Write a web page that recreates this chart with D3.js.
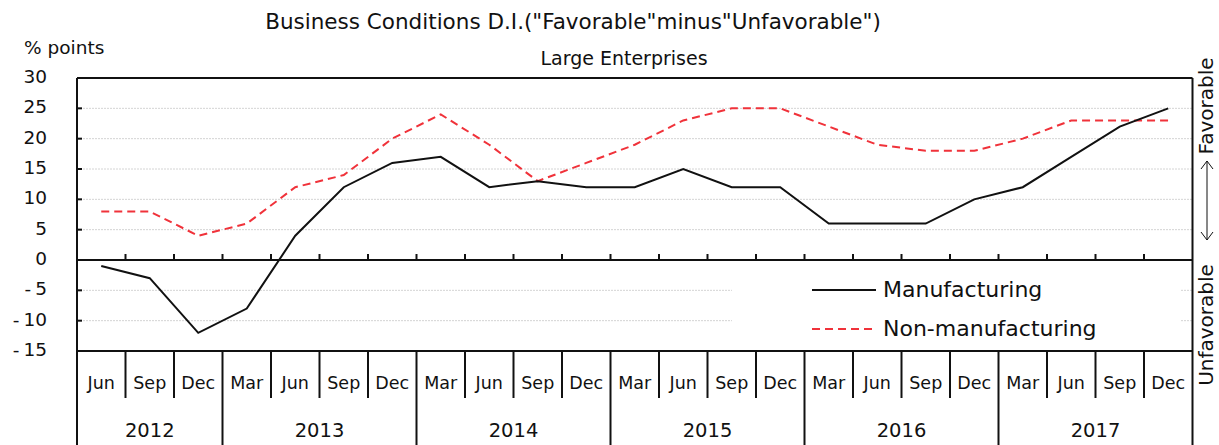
<!DOCTYPE html>
<html>
<head>
<meta charset="utf-8">
<script src="https://cdn.jsdelivr.net/npm/d3@7/dist/d3.min.js"></script>
<style>
  body { margin: 0; background: #fff; }
  svg text { font-family: "DejaVu Sans", sans-serif; fill: #111; }
</style>
</head>
<body>
<svg id="chart" width="1219" height="445"></svg>
<script>
// data
const years = ["2012", "2013", "2014", "2015", "2016", "2017"]
const months = ["Jun","Sep","Dec",
  "Mar","Jun","Sep","Dec",
  "Mar","Jun","Sep","Dec",
  "Mar","Jun","Sep","Dec",
  "Mar","Jun","Sep","Dec",
  "Mar","Jun","Sep","Dec"]
const quarterYear = ["2012","2012","2012",
  "2013","2013","2013","2013",
  "2014","2014","2014","2014",
  "2015","2015","2015","2015",
  "2016","2016","2016","2016",
  "2017","2017","2017","2017"]
const manufacturing = [-1,-3,-12,-8,4,12,16,17,12,13,12,12,15,12,12,6,6,6,10,12,17,22,25]
const nonManufacturing = [8,8,4,6,12,14,20,24,19,13,16,19,23,25,25,22,19,18,18,20,23,23,23]
const yTicks = [30,25,20,15,10,5,0,-5,-10,-15]
const gridVals = [25,20,15,10,5,-5,-10]

const svg = d3.select("#chart")
const plotLeft = 77, plotRight = 1192.5, plotTop = 78, plotBottom = 351
const keys = months.map((m,i)=>quarterYear[i]+"-"+m)

const x = d3.scaleBand().domain(keys).range([plotLeft, plotRight]).padding(0)
const y = d3.scaleLinear().domain([-15, 30]).range([plotBottom, plotTop])
const cx = i => x(keys[i]) + x.bandwidth()/2

// titles
svg.append("text").attr("x", 573).attr("y", 29).attr("text-anchor","middle")
  .style("font-size","21.5px").text('Business Conditions D.I.("Favorable"minus"Unfavorable")')
svg.append("text").attr("x", 624).attr("y", 65).attr("text-anchor","middle")
  .style("font-size","19px").text("Large Enterprises")
svg.append("text").attr("x", 24).attr("y", 54).style("font-size","18.5px").text("% points")

// gridlines
svg.append("g").selectAll("line").data(gridVals).enter().append("line")
  .attr("x1", plotLeft).attr("x2", plotRight)
  .attr("y1", d=>y(d)).attr("y2", d=>y(d))
  .attr("stroke", "#d4d4d4").attr("stroke-width", 1).attr("stroke-dasharray", "2,1")

// legend background hides the lower gridlines
svg.append("rect").attr("x", 732).attr("y", y(0)+2).attr("width", 448).attr("height", y(-15)-y(0)-4)
  .attr("fill", "#fff")

// frame
function hline(yy){
  svg.append("line").attr("x1", plotLeft).attr("x2", plotRight).attr("y1", yy).attr("y2", yy)
    .attr("stroke","#111").attr("stroke-width",2)
}
hline(plotTop); hline(plotBottom); hline(y(0))
svg.append("line").attr("x1", plotLeft).attr("x2", plotLeft).attr("y1", plotTop).attr("y2", 445)
  .attr("stroke","#111").attr("stroke-width",2)
svg.append("line").attr("x1", plotRight).attr("x2", plotRight).attr("y1", plotTop).attr("y2", 445)
  .attr("stroke","#111").attr("stroke-width",2)

// y ticks + labels
const yAxis = svg.append("g")
yAxis.selectAll("line").data(yTicks).enter().append("line")
  .attr("x1", plotLeft).attr("x2", plotLeft+5).attr("y1", d=>y(d)).attr("y2", d=>y(d))
  .attr("stroke","#111").attr("stroke-width",2)
const yLab = yAxis.selectAll("text").data(yTicks).enter().append("text")
  .attr("x", 47).attr("y", d=>y(d)+5).attr("text-anchor","end")
  .style("font-size","18.5px")
yLab.filter(d=>d<0).append("tspan").text("-")
yLab.append("tspan").attr("dx", d=>d<0?4:0).text(d=>Math.abs(d))

// small ticks on zero line
const bounds = keys.slice(1)
svg.append("g").selectAll("line").data(bounds).enter().append("line")
  .attr("x1", d=>x(d)).attr("x2", d=>x(d)).attr("y1", y(0)).attr("y2", y(0)-6)
  .attr("stroke","#111").attr("stroke-width",2)

// category separators below the plot
svg.append("g").selectAll("line").data(bounds).enter().append("line")
  .attr("x1", d=>x(d)).attr("x2", d=>x(d)).attr("y1", plotBottom)
  .attr("y2", (d,i)=> quarterYear[i+1] !== quarterYear[i] ? 445 : 398)
  .attr("stroke","#111").attr("stroke-width",2)

svg.append("g").selectAll("text").data(keys).enter().append("text")
  .attr("x", (d,i)=>cx(i)).attr("y", 389).attr("text-anchor","middle")
  .style("font-size","17.5px").text((d,i)=>months[i])

svg.append("g").selectAll("text").data(years).enter().append("text")
  .attr("x", yr=>{
    const idx = quarterYear.map((q,i)=>q===yr?i:-1).filter(i=>i>=0)
    return (x(keys[idx[0]]) + x(keys[idx[idx.length-1]]) + x.bandwidth())/2
  })
  .attr("y", 437).attr("text-anchor","middle")
  .style("font-size","19.5px").text(d=>d)

// lines
const line = d3.line().x((d,i)=>cx(i)).y(d=>y(d))
svg.append("path").datum(nonManufacturing).attr("d", line)
  .attr("fill","none").attr("stroke","#f0323a").attr("stroke-width",2).attr("stroke-dasharray","8,5")
svg.append("path").datum(manufacturing).attr("d", line)
  .attr("fill","none").attr("stroke","#111").attr("stroke-width",2)

// legend
svg.append("line").attr("x1", 812).attr("x2", 876).attr("y1", 290).attr("y2", 290)
  .attr("stroke","#111").attr("stroke-width",2)
svg.append("text").attr("x", 883).attr("y", 297).style("font-size","22px").text("Manufacturing")
svg.append("line").attr("x1", 812).attr("x2", 876).attr("y1", 329).attr("y2", 329)
  .attr("stroke","#f0323a").attr("stroke-width",2).attr("stroke-dasharray","8,5")
svg.append("text").attr("x", 883).attr("y", 336).style("font-size","22px").text("Non-manufacturing")

// right side annotation
svg.append("text").attr("transform","translate(1213,106) rotate(-90)").attr("text-anchor","middle")
  .style("font-size","20px").text("Favorable")
svg.append("text").attr("transform","translate(1213,325) rotate(-90)").attr("text-anchor","middle")
  .style("font-size","20px").text("Unfavorable")
svg.append("line").attr("x1", 1207).attr("x2", 1207).attr("y1", 161).attr("y2", 240)
  .attr("stroke","#111").attr("stroke-width",1)
svg.append("path").attr("d", "M1201,169 L1207,161 L1213,169 M1201,232 L1207,240 L1213,232")
  .attr("fill","none").attr("stroke","#111").attr("stroke-width",1)
</script>
</body>
</html>
